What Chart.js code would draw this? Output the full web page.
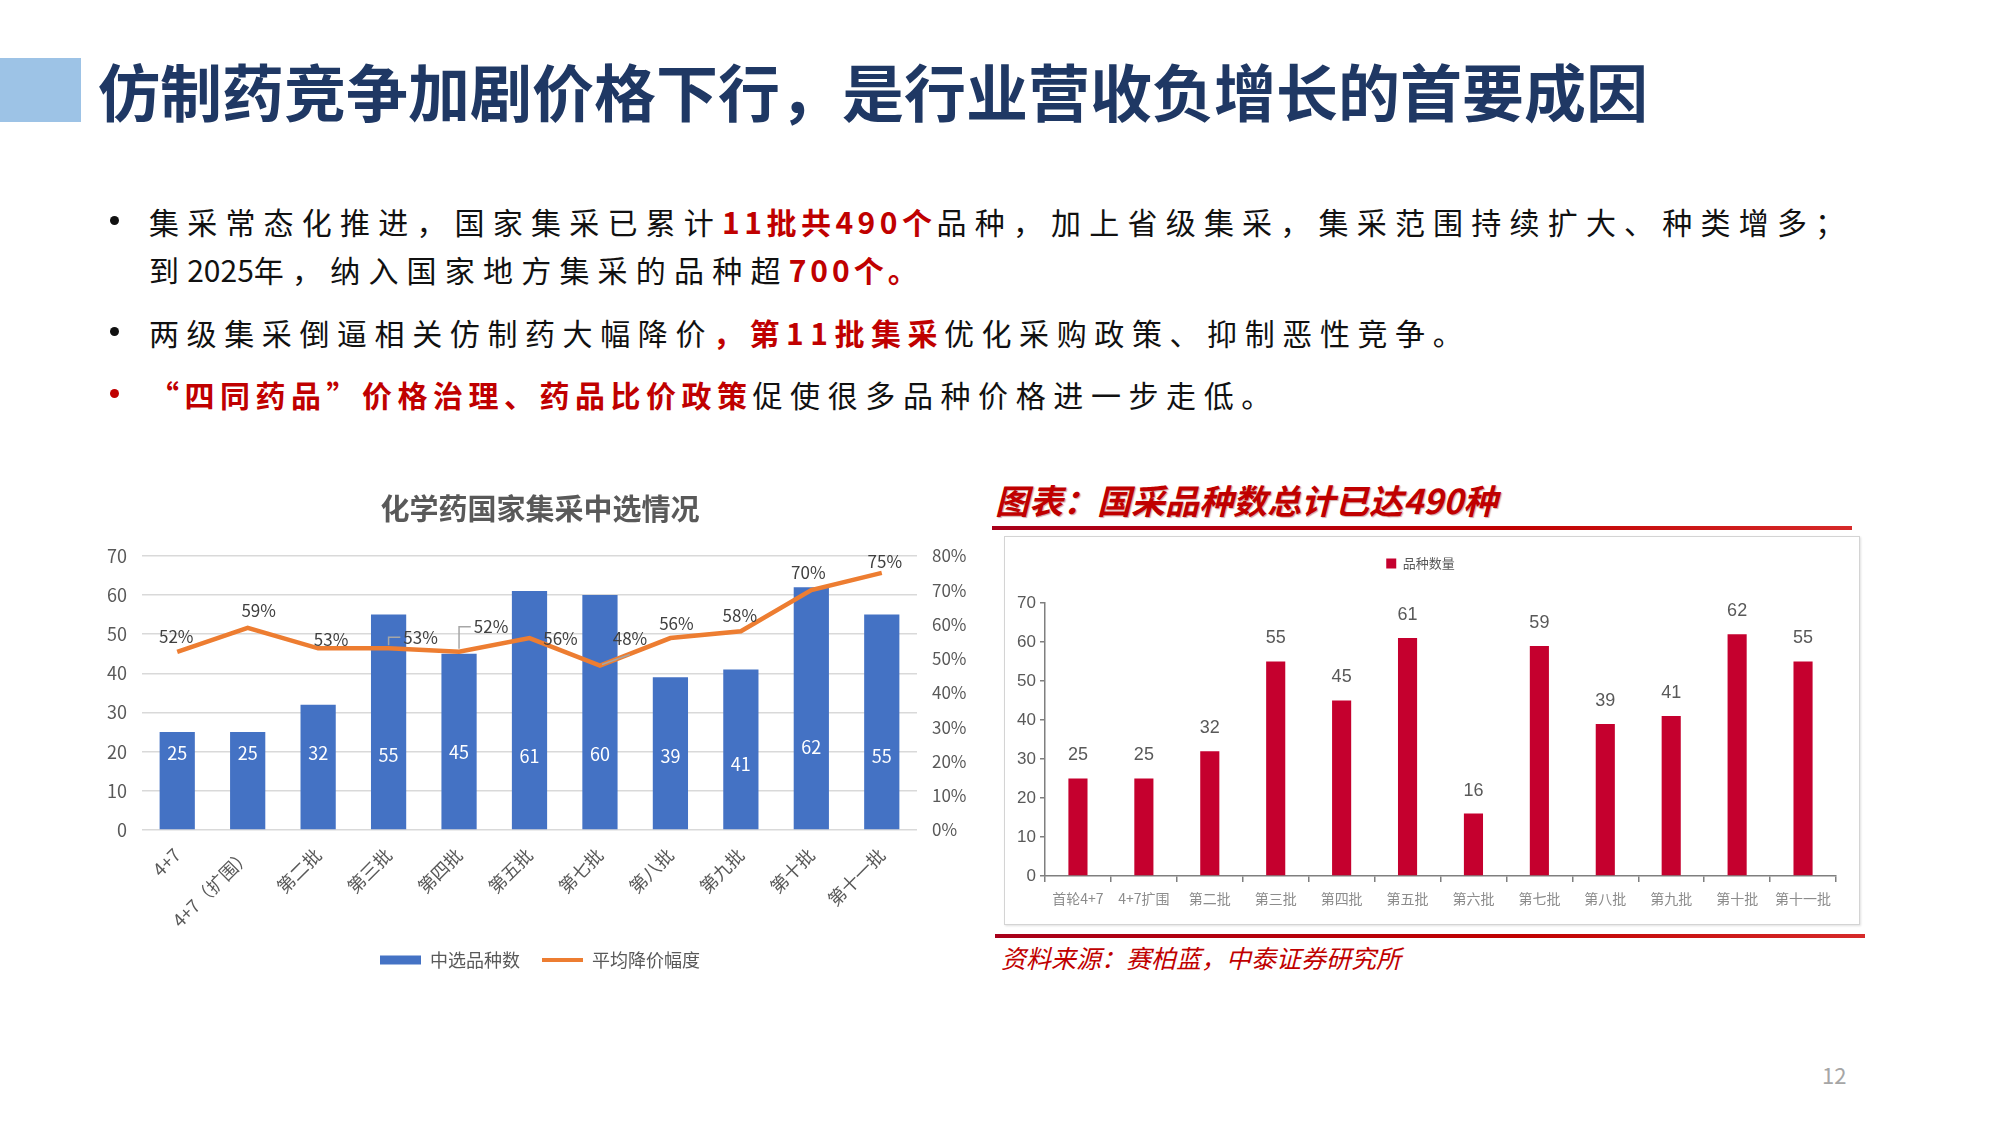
<!DOCTYPE html>
<html lang="zh-CN">
<head>
<meta charset="utf-8">
<title>仿制药竞争加剧价格下行</title>
<script src="https://cdn.jsdelivr.net/npm/chart.js@4.4.1/dist/chart.umd.min.js"></script>
<style>
  html, body { margin: 0; padding: 0; }
  body { width: 2000px; height: 1125px; position: relative; overflow: hidden; background: #fff;
         font-family: "Noto Sans CJK SC", "Noto Sans", sans-serif; }
  .abs { position: absolute; }
  #tagbar { left: 0; top: 58px; width: 81px; height: 64px; background: #9dc3e6; }
  #title { left: 98px; top: 55px; font-size: 62px; line-height: 70px; font-weight: 700; color: #1f3864; white-space: nowrap; }
  .line { position: absolute; left: 149px; height: 40px; line-height: 40px; font-size: 30px; color: #111; white-space: nowrap; }
  .line b { color: #c00000; font-weight: 700; }
  .sp8 { letter-spacing: 8.2px; }
  .sp7 { letter-spacing: 7.6px; }
  .num { letter-spacing: 0; }
  .dot { position: absolute; left: 110px; width: 9px; height: 9px; border-radius: 50%; background: #111; }
  #leftChart { left: 90px; top: 480px; }
  #rtitle { left: 995px; top: 478px; font-size: 34px; line-height: 44px; font-weight: 700; font-style: italic; color: #c00000;
            white-space: nowrap; text-shadow: 1px 1px 1px rgba(120,0,0,.35); }
  .redline { height: 4px; background: linear-gradient(90deg, #a8001a, #c00000 60%, #d62a2a); }
  #box { left: 1004px; top: 536px; width: 854px; height: 387px; border: 1.5px solid #d4d4d4; box-shadow: 1px 1px 2px rgba(0,0,0,.12); }
  #src { left: 1001px; top: 942px; font-size: 25px; line-height: 30px; font-style: italic; color: #c00000; white-space: nowrap; }
  #pg { left: 1822px; top: 1060px; font-size: 22px; line-height: 28px; color: #a6a6a6; }
</style>
</head>
<body>
<div id="tagbar" class="abs"></div>
<div id="title" class="abs">仿制药竞争加剧价格下行，是行业营收负增长的首要成因</div>

<div class="dot" style="top:216px"></div>
<div class="line sp8" style="top:201px">集采常态化推进，国家集采已累计<b style="letter-spacing:4.5px">11批共490个</b>品种，加上省级集采，集采范围持续扩大、种类增多；</div>
<div class="line sp8" style="top:249px">到<span class="num">2025</span>年，纳入国家地方集采的品种超<b style="letter-spacing:4px">700个。</b></div>
<div class="dot" style="top:327px"></div>
<div class="line sp7" style="top:312px">两级集采倒逼相关仿制药大幅降价<b style="letter-spacing:6.5px">，第11批集采</b>优化采购政策、抑制恶性竞争。</div>
<div class="dot" style="top:389px;background:#c00000"></div>
<div class="line sp7" style="top:374px"><b style="letter-spacing:5.5px">“四同药品”价格治理、药品比价政策</b>促使很多品种价格进一步走低。</div>

<canvas id="leftChart" class="abs" width="900" height="510" style="width:900px;height:510px"></canvas>

<div id="rtitle" class="abs">图表：国采品种数总计已达490种</div>
<div class="abs redline" style="left:992px;top:526px;width:860px"></div>
<div id="box" class="abs"><canvas id="rightChart" width="854" height="387" style="width:854px;height:387px"></canvas></div>
<div class="abs redline" style="left:995px;top:934px;width:870px"></div>
<div id="src" class="abs">资料来源：赛柏蓝，中泰证券研究所</div>
<div id="pg" class="abs">12</div>

<script>
// 左图：化学药国家集采中选情况
const batchNames = ['4+7', '4+7（扩围）', '第二批', '第三批', '第四批', '第五批', '第七批', '第八批', '第九批', '第十批', '第十一批'];
const pickedCounts = [25, 25, 32, 55, 45, 61, 60, 39, 41, 62, 55];
const avgCuts = [0.52, 0.59, 0.53, 0.53, 0.52, 0.56, 0.48, 0.56, 0.58, 0.70, 0.75];

// 右图：国采品种数
const roundNames = ['首轮4+7', '4+7扩围', '第二批', '第三批', '第四批', '第五批', '第六批', '第七批', '第八批', '第九批', '第十批', '第十一批'];
const roundCounts = [25, 25, 32, 55, 45, 61, 16, 59, 39, 41, 62, 55];

Chart.defaults.font.family = '"Noto Sans CJK SC", "Noto Sans", sans-serif';

// label placement (px offsets from the point), like the moved labels in excel
const cutLabelPos = [[-1,-15],[11,-17],[13,-9],[32,-11],[32,-25],[31,0],[30,-27],[6,-15],[-1,-16],[-3,-18],[3,-11]];
const cutLeader = [false,false,false,true,true,false,true,false,false,false,false];
const countLabelNudge = [0,0,0,2,-1,3,1,3,11,-6,3];

const leftLabels = {
  id: 'leftLabels',
  afterDatasetsDraw(chart) {
    const ctx = chart.ctx;
    const bars = chart.getDatasetMeta(0).data;
    const pts = chart.getDatasetMeta(1).data;
    const yBase = chart.scales.y.getPixelForValue(19.5);
    ctx.save();
    ctx.textAlign = 'center';
    ctx.textBaseline = 'middle';
    ctx.font = '18px "Noto Sans CJK SC"';
    ctx.fillStyle = '#fff';
    bars.forEach((b, i) => ctx.fillText(pickedCounts[i], b.x, yBase + countLabelNudge[i]));
    ctx.font = '17px "Noto Sans CJK SC"';
    pts.forEach((p, i) => {
      const txt = Math.round(avgCuts[i] * 100) + '%';
      const lx = p.x + cutLabelPos[i][0], ly = p.y + cutLabelPos[i][1];
      if (cutLeader[i]) {
        const w = ctx.measureText(txt).width;
        ctx.strokeStyle = '#a6a6a6';
        ctx.lineWidth = 1.5;
        ctx.beginPath();
        if (i === 6) {
          ctx.moveTo(p.x + 2, p.y - 1);
          ctx.lineTo(lx, ly + 16);
        } else {
          ctx.moveTo(p.x, p.y - 3);
          ctx.lineTo(p.x, ly);
          ctx.lineTo(lx - w / 2 - 3, ly);
        }
        ctx.stroke();
      }
      ctx.fillStyle = '#404040';
      ctx.fillText(txt, lx, ly);
    });
    ctx.restore();
  }
};

new Chart(document.getElementById('leftChart'), {
  data: {
    labels: batchNames,
    datasets: [
      { type: 'bar', label: '中选品种数', data: pickedCounts, backgroundColor: '#4472c4',
        barPercentage: 0.5, categoryPercentage: 1, yAxisID: 'y', order: 2 },
      { type: 'line', label: '平均降价幅度', data: avgCuts, borderColor: '#ed7d31', backgroundColor: '#ed7d31',
        borderWidth: 4.5, pointRadius: 0, tension: 0, yAxisID: 'y1', order: 1 }
    ]
  },
  options: {
    responsive: false,
    animation: false,
    layout: { padding: { top: 0, left: 0, right: 0, bottom: 11 } },
    plugins: {
      title: { display: true, text: '化学药国家集采中选情况', color: '#595959',
               font: { size: 29, weight: 'bold' }, padding: { top: 12, bottom: 29 } },
      legend: {
        position: 'bottom',
        labels: {
          usePointStyle: true, pointStyleWidth: 41, boxHeight: 9, color: '#595959', font: { size: 18 }, padding: 22,
          generateLabels: chart => chart.data.datasets.map((ds, i) => ({
            text: ds.label, fillStyle: ds.backgroundColor, strokeStyle: ds.backgroundColor,
            lineWidth: i ? 4 : 0, pointStyle: i ? 'line' : 'rect', datasetIndex: i, fontColor: '#595959', hidden: false
          }))
        }
      },
      tooltip: { enabled: false }
    },
    scales: {
      x: {
        grid: { display: false }, border: { display: false },
        ticks: { color: '#595959', font: { size: 18 }, maxRotation: 45, minRotation: 45, padding: 6, autoSkip: false },
        afterFit: s => { s.height = 99; }
      },
      y: {
        position: 'left', min: 0, max: 70,
        ticks: { stepSize: 10, color: '#595959', font: { size: 18 }, padding: 15 },
        grid: { color: '#d9d9d9', lineWidth: 1.5, drawTicks: false }, border: { display: false },
        afterFit: s => { s.width = 52; }
      },
      y1: {
        position: 'right', min: 0, max: 0.8,
        ticks: { stepSize: 0.1, color: '#595959', font: { size: 17 }, padding: 15, callback: v => Math.round(v * 100) + '%' },
        grid: { drawOnChartArea: false, drawTicks: false }, border: { display: false },
        afterFit: s => { s.width = 73; }
      }
    }
  },
  plugins: [leftLabels]
});

// right chart: numbers above the red bars
const topLabels = {
  id: 'topLabels',
  afterDatasetsDraw(chart) {
    const ctx = chart.ctx;
    ctx.save();
    ctx.font = '18px "Liberation Sans", Arial, sans-serif';
    ctx.fillStyle = '#595959';
    ctx.textAlign = 'center';
    ctx.textBaseline = 'middle';
    chart.getDatasetMeta(0).data.forEach((b, i) => ctx.fillText(roundCounts[i], b.x, b.y - 23));
    ctx.restore();
  }
};
// more room under the legend
const legendGap = {
  id: 'legendGap',
  beforeInit(chart) {
    const fit = chart.legend.fit;
    chart.legend.fit = function () { fit.call(this); this.height = 56; };
  }
};

new Chart(document.getElementById('rightChart'), {
  type: 'bar',
  data: {
    labels: roundNames,
    datasets: [{ label: '品种数量', data: roundCounts, backgroundColor: '#c5002e', barPercentage: 0.29, categoryPercentage: 1 }]
  },
  options: {
    responsive: false,
    animation: false,
    layout: { padding: { top: 10, right: 23, left: 0, bottom: 0 } },
    plugins: {
      legend: { labels: { boxWidth: 10, boxHeight: 10, color: '#595959', font: { size: 13 } } },
      tooltip: { enabled: false }
    },
    scales: {
      x: {
        grid: { display: true, drawOnChartArea: false, offset: true, tickLength: 6, color: '#7f7f7f', lineWidth: 1.5 },
        border: { color: '#7f7f7f', width: 1.5 },
        ticks: { color: '#8c8c8c', font: { size: 14 }, padding: 8, maxRotation: 0, autoSkip: false },
        afterFit: s => { s.height = 48; }
      },
      y: {
        min: 0, max: 70,
        ticks: { stepSize: 10, color: '#595959', font: { size: 17, family: '"Liberation Sans", Arial, sans-serif' }, padding: 4 },
        grid: { drawOnChartArea: false, tickLength: 5, color: '#7f7f7f', lineWidth: 1.5 },
        border: { color: '#7f7f7f', width: 1.5 },
        afterFit: s => { s.width = 40; }
      }
    }
  },
  plugins: [topLabels, legendGap]
});
</script>
</body>
</html>
